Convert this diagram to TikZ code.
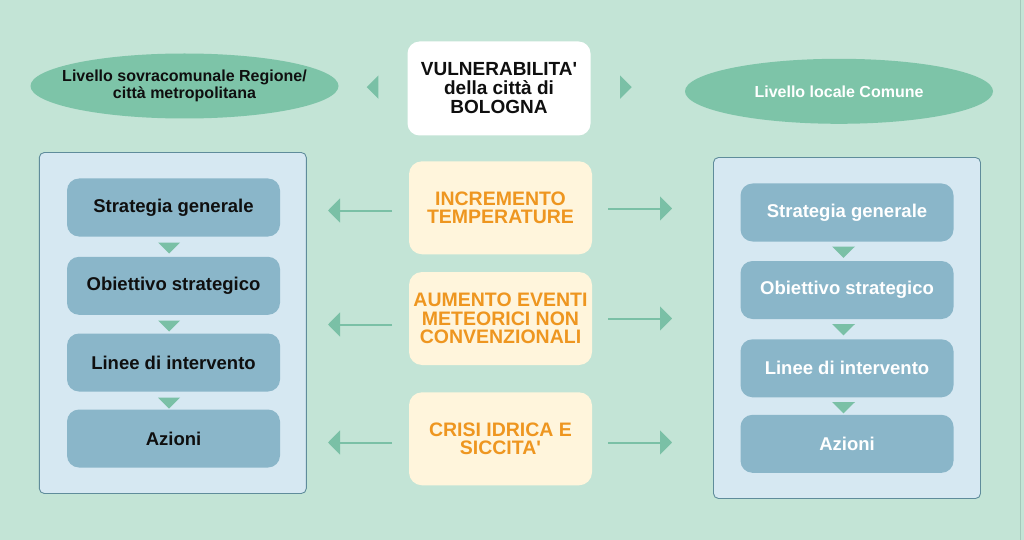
\documentclass[tikz,border=0pt]{standalone}
\usepackage{fontspec}
\setmainfont{Liberation Sans}[Ligatures=TeXOff]
\usetikzlibrary{shapes.geometric,arrows.meta}
\definecolor{bgc}{RGB}{195,228,214}
\definecolor{edgec}{RGB}{165,200,186}
\definecolor{ellc}{RGB}{125,196,168}
\definecolor{panelc}{RGB}{214,232,242}
\definecolor{paneld}{RGB}{95,140,155}
\definecolor{boxc}{RGB}{138,182,201}
\definecolor{yelc}{RGB}{255,245,220}
\definecolor{orc}{RGB}{238,150,32}
\definecolor{arrc}{RGB}{122,192,166}
\definecolor{txtc}{RGB}{15,15,15}
\tikzset{
  ellnode/.style={ellipse, fill=ellc, minimum width=308pt, minimum height=65pt, inner xsep=-60pt, inner ysep=-15pt, align=center, font=\bfseries\fontsize{16}{17.6}\selectfont},
  panelbox/.style={draw=paneld, line width=0.9pt, fill=panelc, rounded corners=5pt, minimum width=267pt, minimum height=341pt, inner sep=0pt},
  stepbox/.style={fill=boxc, rounded corners=12pt, minimum width=213pt, minimum height=58pt, inner sep=0pt, font=\bfseries\fontsize{18.5}{20}\selectfont},
  yelbox/.style={fill=yelc, rounded corners=13pt, minimum width=183pt, minimum height=93pt, inner sep=0pt, align=center, text=orc, font=\bfseries\fontsize{19.5}{18.5}\selectfont},
  conn/.style={draw=arrc, line width=2pt, -{Triangle[length=12pt,width=24pt]}},
  tri/.style={fill=arrc}
}
\begin{document}
\begin{tikzpicture}[x=1pt,y=-1pt]
\fill[bgc] (0,0) rectangle (1024,539);
\draw[edgec, line width=1pt] (1020.5,0) -- (1020.5,539);
\useasboundingbox (0,0) rectangle (1024,539);
% top row
\node[ellnode, text=txtc] (le) at (184.5,85.5) {Livello sovracomunale Regione/\\città metropolitana};
\node[ellnode, text=white] (re) at (839,90.8) {Livello locale Comune};
\node[fill=white, rounded corners=12pt, minimum width=183pt, minimum height=94pt, inner sep=0pt, align=center, text=txtc, font=\bfseries\fontsize{19}{19}\selectfont] (vb) at (499,88) {VULNERABILITA'\\della città di\\BOLOGNA};
\fill[tri] (366.7,86.7) -- (378.3,75) -- (378.3,98.3) -- cycle;
\fill[tri] (631.7,86.7) -- (620,75) -- (620,98.3) -- cycle;
% panels
\node[panelbox] (lp) at (172.8,322.5) {};
\node[panelbox] (rp) at (847,327.5) {};
% left steps
\node[stepbox, text=txtc] (l1) at (173.5,207) {Strategia generale};
\node[stepbox, text=txtc] (l2) at (173.5,285.3) {Obiettivo strategico};
\node[stepbox, text=txtc] (l3) at (173.5,362) {Linee di intervento};
\node[stepbox, text=txtc] (l4) at (173.5,438) {Azioni};
\foreach \y in {242,320,397}{
  \fill[tri] (158,\y) -- (180,\y) -- (169,\y+11) -- cycle;
}
% right steps
\node[stepbox, text=white] (r1) at (847,212) {Strategia generale};
\node[stepbox, text=white] (r2) at (847,289.5) {Obiettivo strategico};
\node[stepbox, text=white] (r3) at (847,367.8) {Linee di intervento};
\node[stepbox, text=white] (r4) at (847,443.3) {Azioni};
\foreach \y in {246,323.5,401.5}{
  \fill[tri] (832,\y) -- (855,\y) -- (843.5,\y+11.3) -- cycle;
}
% yellow boxes
\node[yelbox] (y1) at (500.5,207.3) {INCREMENTO\\TEMPERATURE};
\node[yelbox] (y2) at (500.5,318) {AUMENTO EVENTI\\METEORICI NON\\CONVENZIONALI};
\node[yelbox] (y3) at (500.5,438.3) {CRISI IDRICA E\\SICCITA'};
% arrows
\coordinate (a1s) at (392,210); \coordinate (a1e) at (328,210);
\coordinate (b1s) at (608,208); \coordinate (b1e) at (672,208);
\coordinate (a2s) at (392,324); \coordinate (a2e) at (328,324);
\coordinate (b2s) at (608,318); \coordinate (b2e) at (672,318);
\coordinate (a3s) at (392,442); \coordinate (a3e) at (328,442);
\coordinate (b3s) at (608,442); \coordinate (b3e) at (672,442);
\draw[conn] (a1s) -- (a1e);
\draw[conn] (b1s) -- (b1e);
\draw[conn] (a2s) -- (a2e);
\draw[conn] (b2s) -- (b2e);
\draw[conn] (a3s) -- (a3e);
\draw[conn] (b3s) -- (b3e);
\end{tikzpicture}
\end{document}
